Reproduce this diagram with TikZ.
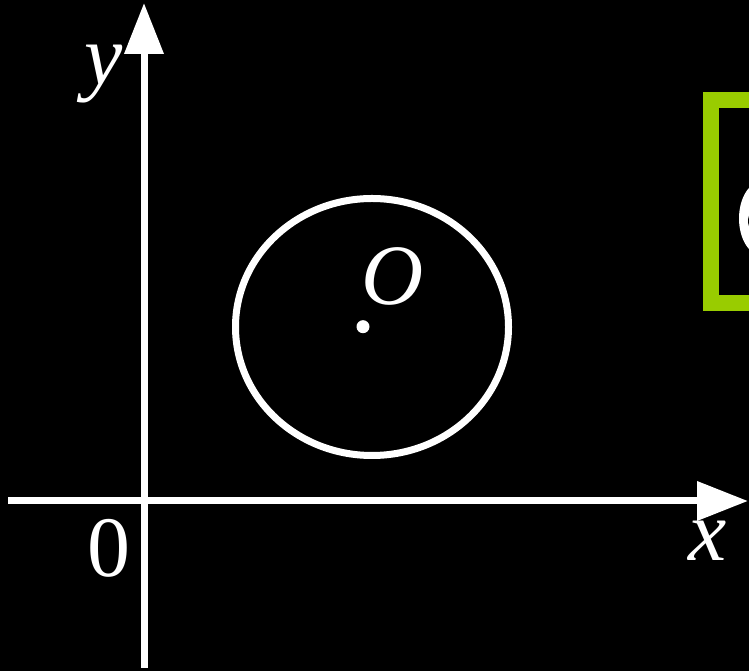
\documentclass[tikz,border=0pt]{standalone}
\usepackage{fontspec}
\setmainfont{Liberation Serif}
\usetikzlibrary{arrows.meta}
\definecolor{boxgreen}{RGB}{153,204,0}
\begin{document}
\begin{tikzpicture}[x=1pt,y=1pt,
  axis/.style={white,line width=7pt,-{Triangle[length=51pt,width=38pt]}},
  lbl/.style={text=white,inner sep=0pt,anchor=base,font=\fontsize{86}{90}\selectfont}]
\fill[black] (0,0) rectangle (749,671);
\useasboundingbox (0,0) rectangle (749,671);
\begin{scope}
\clip (0,0) rectangle (749,671);
% green framed box (cut at right edge)
\draw[boxgreen,line width=16pt] (711,368) rectangle (800,571);
\fill[white] (762,452.5) ellipse [x radius=23pt, y radius=37pt];
\fill[black] (762,450) ellipse [x radius=14pt, y radius=14pt];
\end{scope}
% axes
\coordinate (xs) at (8,170);
\coordinate (xe) at (748,170);
\coordinate (ys) at (144,3);
\coordinate (ye) at (144,668);
\draw[axis] (xs) -- (xe);
\draw[axis] (ys) -- (ye);
% circle and centre
\draw[white,line width=7pt] (372,344) ellipse [x radius=136.5pt, y radius=128.5pt];
\node[circle,fill=white,inner sep=0pt,minimum size=13pt] (c) at (363,344.3) {};
% labels
\node[lbl] (ly) at (104,586) {\itshape y};
\node[lbl] (lx) at (708,110) {\itshape x};
\node[lbl] (l0) at (109,94) {0};
\node[lbl] (lO) at (393,366) {\itshape O};
\end{tikzpicture}
\end{document}
